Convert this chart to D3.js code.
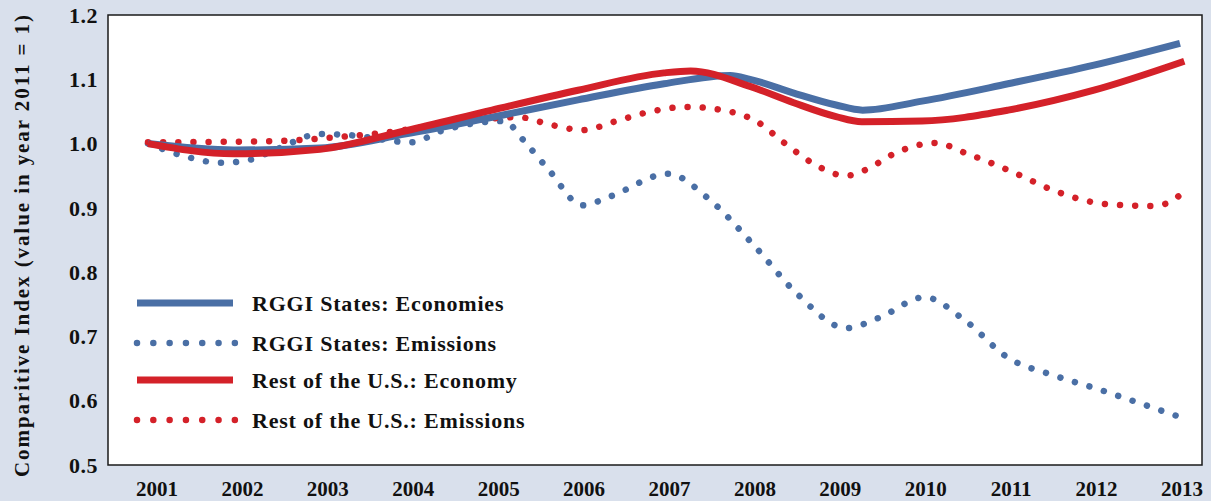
<!DOCTYPE html>
<html><head><meta charset="utf-8">
<script src="https://cdn.jsdelivr.net/npm/d3@7"></script>
<style>html,body{margin:0;padding:0;background:#d9e0ec;}svg{display:block;}</style>
</head><body>
<svg id="c" width="1211" height="501"></svg>
<script>
const years = [2001,2002,2003,2004,2005,2006,2007,2008,2009,2010,2011,2012,2013];
const yTicks = [0.5,0.6,0.7,0.8,0.9,1.0,1.1,1.2];

const rggiEconT = [2001,2002,2003,2004,2005,2006,2007,2007.77,2008,2008.5,2009,2009.31,2010,2011,2012,2013];
const rggiEconV = [1.0,0.99,0.993,1.015,1.041,1.068,1.093,1.106,1.100,1.079,1.060,1.052,1.066,1.093,1.122,1.156];

const restEconT = [2001,2002,2003,2004,2005,2006,2007,2007.31,2008,2008.5,2009,2009.3,2010,2011,2012,2013.05];
const restEconV = [1.0,0.984,0.991,1.02,1.052,1.083,1.110,1.113,1.089,1.064,1.042,1.034,1.035,1.052,1.083,1.128];

const rggiEmT = [2001,2001.49,2001.84,2002.16,2002.51,2003.0,2003.35,2004.06,2004.42,2005.13,2005.41,2005.66,2006.05,2006.38,2007.05,2007.52,2008.05,2008.55,2009.12,2009.5,2010.03,2010.48,2011.01,2011.52,2012.07,2012.6,2012.97];
const rggiEmV = [1.0,0.978,0.970,0.974,0.992,1.015,1.013,1.002,1.020,1.035,0.998,0.959,0.904,0.918,0.953,0.914,0.841,0.766,0.713,0.729,0.761,0.727,0.666,0.640,0.617,0.593,0.576];

const restEmT = [2001,2002.53,2003.1,2003.69,2004.45,2005.31,2005.69,2006.06,2006.42,2006.79,2007.26,2007.72,2008.07,2008.4,2008.71,2009.12,2009.36,2009.67,2010.16,2010.51,2011.05,2011.57,2012.13,2012.65,2012.85,2013.0];
const restEmV = [1.002,1.004,1.009,1.016,1.03,1.041,1.029,1.021,1.034,1.048,1.057,1.051,1.035,1.001,0.971,0.950,0.960,0.984,1.001,0.985,0.956,0.925,0.906,0.903,0.907,0.920];

const legendLabels = ["RGGI States: Economies","RGGI States: Emissions","Rest of the U.S.: Economy","Rest of the U.S.: Emissions"];
const blue = "#4a6fa5", red = "#d42129";

const svg = d3.select("#c");
const plot = {l:108, t:15, r:1202, b:465};
const x = d3.scaleLinear().domain([2001,2013]).range([148,1180]);
const xLab = d3.scalePoint().domain(years).range([157,1182]);
const y = d3.scaleLinear().domain([0.5,1.2]).range([plot.b, plot.t]);

svg.append("rect").attr("x",plot.l).attr("y",plot.t).attr("width",plot.r-plot.l).attr("height",plot.b-plot.t)
  .attr("fill","#fff").attr("stroke","#1a1a1a").attr("stroke-width",1.5);

const font = "'Liberation Serif', 'DejaVu Serif', serif";

// y tick labels
svg.append("g").selectAll("text").data(yTicks).join("text")
  .attr("x",98).attr("y",y).attr("dy","0.35em").attr("text-anchor","end")
  .attr("font-family",font).attr("font-weight","bold").attr("font-size",22).attr("letter-spacing",0.5).attr("fill","#111")
  .text(d=>d.toFixed(1));

// x tick labels
svg.append("g").selectAll("text").data(years).join("text")
  .attr("x",d=>xLab(d)).attr("y",496).attr("text-anchor","middle")
  .attr("font-family",font).attr("font-weight","bold").attr("font-size",21).attr("fill","#111")
  .text(d=>d);

// y axis title
svg.append("text").attr("transform","translate(29,246) rotate(-90)").attr("text-anchor","middle")
  .attr("font-family",font).attr("font-weight","bold").attr("font-size",21)
  .attr("textLength",462).attr("lengthAdjust","spacing").attr("fill","#111")
  .text("Comparitive Index (value in year 2011 = 1)");

const line = d3.line().x(d=>x(d[0])).y(d=>y(d[1])).curve(d3.curveMonotoneX);
const zip = (a,b)=>a.map((t,i)=>[t,b[i]]);

const g = svg.append("g");
function dotted(t, v, color){
  const p = g.append("path").attr("d",line(zip(t,v))).attr("fill","none").attr("stroke",color)
    .attr("stroke-width",6.5).attr("stroke-linecap","round");
  const L = p.node().getTotalLength();
  const n = Math.round(L/15.2);
  const gap = (L-2.5)/n;
  p.attr("stroke-dasharray",`0.01 ${gap-0.01}`);
}
dotted(rggiEmT, rggiEmV, blue);
dotted(restEmT, restEmV, red);
g.append("path").attr("d",line(zip(rggiEconT,rggiEconV))).attr("fill","none").attr("stroke",blue)
  .attr("stroke-width",7);
g.append("path").attr("d",line(zip(restEconT,restEconV))).attr("fill","none").attr("stroke",red)
  .attr("stroke-width",7);

// legend
const legY = [303,343,380,420];
const legStyle = [
  {c:blue, dash:null},{c:blue, dash:"0.01 16.3"},{c:red, dash:null},{c:red, dash:"0.01 16.3"}];
const lg = svg.append("g");
legendLabels.forEach((lab,i)=>{
  const s = legStyle[i];
  const p = lg.append("line").attr("x1",137).attr("x2",s.dash?235:233)
    .attr("y1",legY[i]).attr("y2",legY[i]).attr("stroke",s.c);
  if(s.dash) p.attr("stroke-width",6.5).attr("stroke-linecap","round").attr("stroke-dasharray",s.dash);
  else p.attr("stroke-width",7);
  lg.append("text").attr("x",252).attr("y",legY[i]).attr("dy","0.35em")
    .attr("font-family",font).attr("font-weight","bold").attr("font-size",22).attr("letter-spacing",0.8).attr("fill","#111")
    .text(lab);
});
</script>
</body></html>
